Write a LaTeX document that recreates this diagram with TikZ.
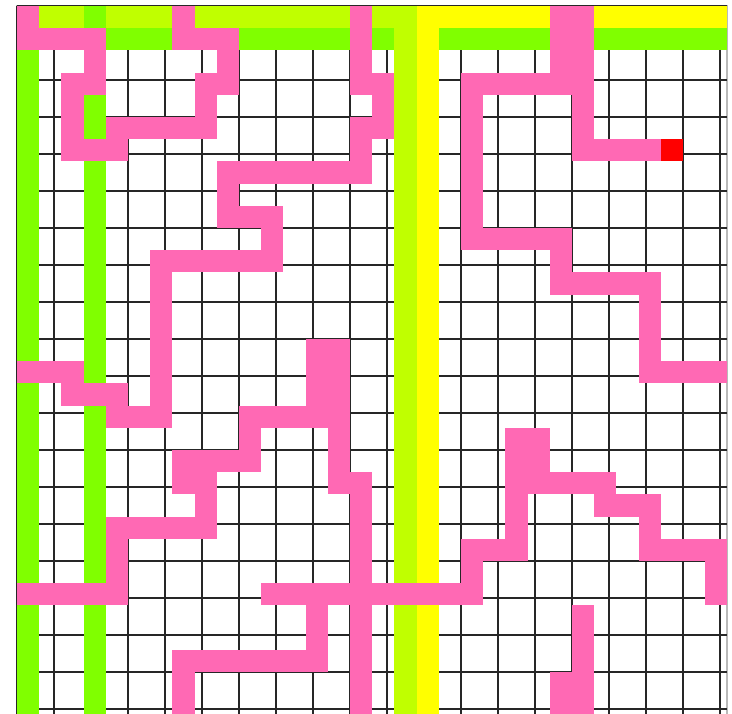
\documentclass[tikz,border=0pt]{standalone}
\usepackage{tikz}
\definecolor{pathpink}{RGB}{255,105,180}
\definecolor{limecol}{RGB}{192,255,0}
\definecolor{greencol}{RGB}{128,255,0}
\definecolor{yellowcol}{RGB}{255,255,0}
\definecolor{goalred}{RGB}{255,0,0}
\tikzset{
  gridln/.style={line width=1.1pt, black!85},
  frameln/.style={line width=1.6pt, gray!55},
  pathcell/.style={fill=pathpink},
  greencell/.style={fill=greencol},
  limecell/.style={fill=limecol},
  yellowcell/.style={fill=yellowcol},
}

\begin{document}
\begin{tikzpicture}[x=0.6cm, y=0.6cm]
    \useasboundingbox[fill=white] (-0.766,0.27) rectangle (32.207,-31.89);
    \clip (-0.766,0.27) rectangle (32.207,-31.89);
    % frame and grid
    \draw[frameln] (0,0) rectangle (32,-32);
    \draw[gridln] (0,-32) grid (32,0);
    % top rows and wall columns
    \fill[limecell] (0,0) rectangle (18,-1);
    \fill[yellowcell] (18,0) rectangle (32,-1);
    \fill[greencell] (0,-1) rectangle (17,-2);
    \fill[greencell] (19,-1) rectangle (32,-2);
    \foreach \c in {0,3}
      \fill[greencell] (\c,0) rectangle (\c+1,-32);
    \fill[limecell] (17,0) rectangle (18,-32);
    \fill[yellowcell] (18,0) rectangle (19,-32);
    % pink paths: col1/row1/col2/row2
    \foreach \ca/\ra/\cb/\rb in {
      0/0/0/1, 0/1/3/1, 3/1/3/3, 2/3/3/3, 2/3/2/6, 2/6/4/6, 4/5/4/6,
      4/5/8/5, 8/3/8/5, 8/3/9/3, 9/1/9/3, 7/1/9/1, 7/0/7/1,
      15/0/15/3, 15/3/16/3, 16/3/16/5, 15/5/16/5, 15/5/15/7, 9/7/15/7,
      9/7/9/9, 9/9/11/9, 11/9/11/11, 6/11/11/11, 6/11/6/18, 4/18/6/18,
      4/17/4/18, 2/17/4/17, 2/16/2/17, 0/16/2/16,
      24/0/25/2, 20/3/25/3, 25/3/25/6, 25/6/28/6, 20/3/20/10,
      20/10/24/10, 24/10/24/12, 24/12/28/12, 28/12/28/16, 28/16/31/16,
      13/15/14/17, 10/18/14/18, 14/18/14/21, 14/21/15/21, 15/21/15/31,
      10/18/10/20, 7/20/10/20, 7/21/8/21, 8/21/8/23, 4/23/8/23,
      4/23/4/26, 0/26/4/26, 11/26/20/26, 13/26/13/29, 7/29/13/29,
      7/29/7/31, 20/24/20/26, 20/24/22/24, 22/19/22/24, 23/19/23/20,
      22/21/26/21, 26/21/26/22, 26/22/28/22, 28/22/28/24, 28/24/31/24,
      31/24/31/26, 25/27/25/31, 24/30/24/31}
      \fill[pathcell] (\ca,-\ra) rectangle (\cb+1,-\rb-1);
    % goal cell
    \fill[goalred] (29,-6) rectangle (30,-7);
\end{tikzpicture}
\end{document}
